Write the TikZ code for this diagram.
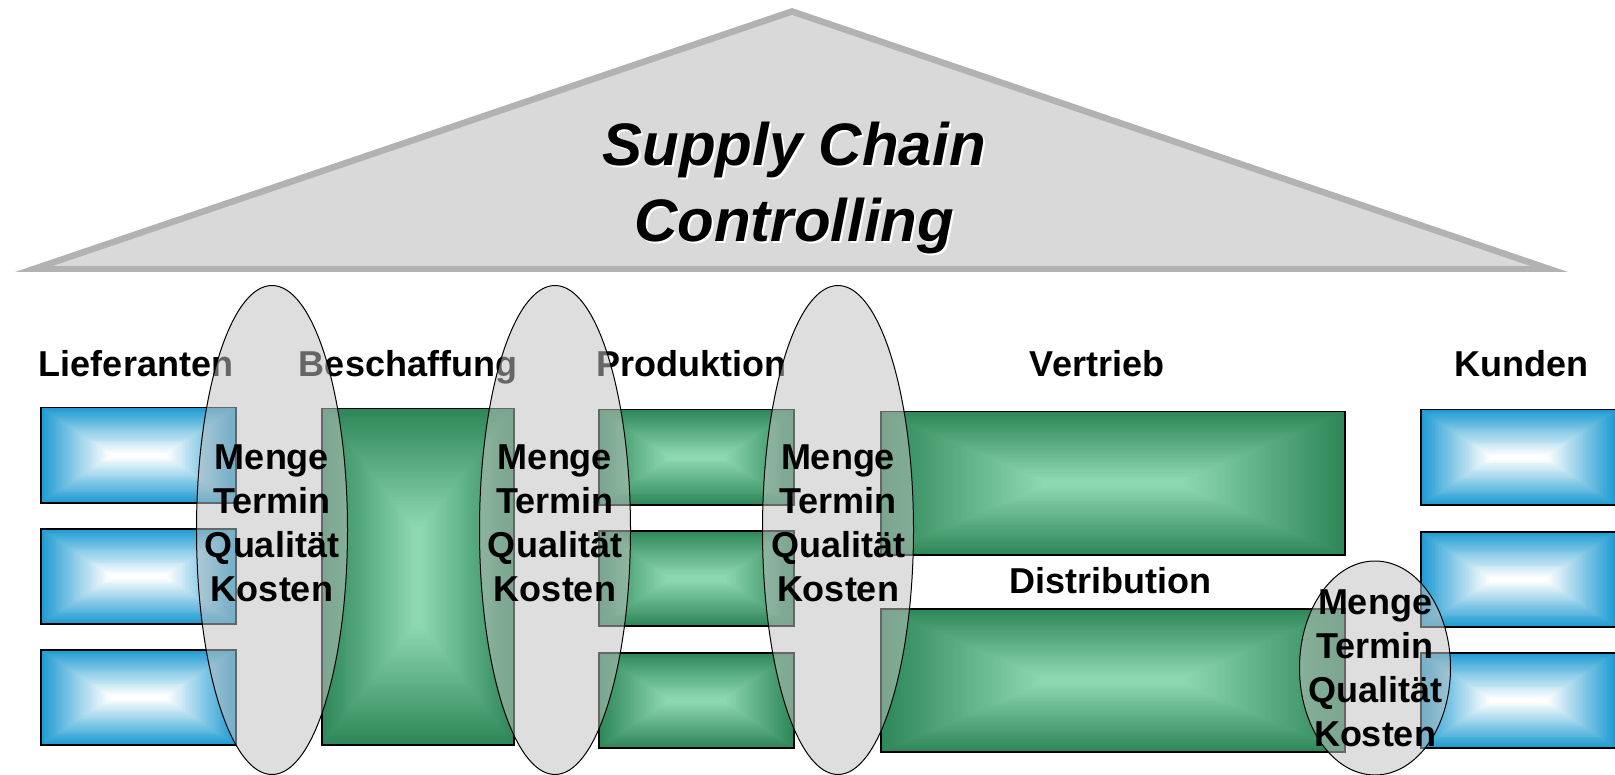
\documentclass[tikz,border=0pt]{standalone}
\usepackage{fontspec}
\setmainfont{Liberation Sans}
\usetikzlibrary{shapes.geometric,calc}
\definecolor{roofgray}{RGB}{217,217,217}
\definecolor{roofedge}{RGB}{178,178,178}
\definecolor{boxblue}{RGB}{30,155,210}
\definecolor{boxgreen}{RGB}{46,135,88}
\definecolor{lightgreen}{RGB}{142,216,176}
\definecolor{lensgray}{RGB}{193,193,193}
% nested frames for the box shading, #1/#2 = inset of the innermost frame
\newcommand{\boxshade}[4]{%
  \foreach \i in {0,...,48}{
    \pgfmathsetmacro{\insx}{#1*\i/48}
    \pgfmathsetmacro{\insy}{#2*\i/48}
    \pgfmathtruncatemacro{\pct}{100*\i/48}
    \fill[#4!\pct!#3] ($(path picture bounding box.south west)+(\insx pt,\insy pt)$)
      rectangle ($(path picture bounding box.north east)-(\insx pt,\insy pt)$);
  }}
\tikzset{%
  shbox/.style     = {draw, line width=1.5pt, inner sep=0pt, anchor=north west},
  bluebox/.style   = {shbox, minimum width=195pt, minimum height=95pt,
    path picture={\boxshade{68}{45}{boxblue}{white}}},
  greenbox/.style n args = {2}{shbox, path picture={\boxshade{#1}{#2}{boxgreen}{lightgreen}}},
  lens/.style      = {ellipse, draw, line width=1pt, fill=lensgray, fill opacity=0.53,
    inner sep=0pt, minimum width=151pt}, % Schnittstelle
  kpi/.style       = {align=center, font=\fontsize{36}{44}\selectfont\bfseries},
  lbl/.style       = {anchor=base, font=\fontsize{36}{44}\selectfont\bfseries}
}

\begin{document}
\begin{tikzpicture}[x=1pt, y=-1pt]
\useasboundingbox (0,0) rectangle (1615,775);
	% Roof
	\fill[roofedge] (15,272) -- (792,8) -- (1568,272) -- cycle;
	\fill[roofgray] (53,266) -- (792,15) -- (1530,266) -- cycle;
\draw
	node at (796,190) [align=center, white, font=\fontsize{60}{76}\selectfont\bfseries\itshape] (titleshadow) {Supply Chain\\Controlling}
	node at (794,188) [align=center, font=\fontsize{60}{76}\selectfont\bfseries\itshape] (title) {Supply Chain\\Controlling};
	% Stage labels
\draw
	node at (136,377) [lbl] (liefer) {Lieferanten}
	node at (408,377) [lbl] (beschaff) {Beschaffung}
	node at (691,377) [lbl] (produkt) {Produktion}
	node at (1097,377) [lbl] (vertrieb) {Vertrieb}
	node at (1521,377) [lbl] (kunden) {Kunden}
	node at (1110,593) [lbl] (distrib) {Distribution};
	% Boxes of the chain
\draw
	node at (40,407) [bluebox] (lief1) {}
	node at (40,528) [bluebox] (lief2) {}
	node at (40,649) [bluebox] (lief3) {}
	node at (321,408) [greenbox={91}{117}, minimum width=192pt, minimum height=336pt] (besch) {}
	node at (598,409) [greenbox={68}{45}, minimum width=195pt, minimum height=95pt] (prod1) {}
	node at (598,530) [greenbox={68}{45}, minimum width=195pt, minimum height=95pt] (prod2) {}
	node at (598,652) [greenbox={68}{45}, minimum width=195pt, minimum height=95pt] (prod3) {}
	node at (880,411) [greenbox={160}{68}, minimum width=464pt, minimum height=143pt] (vertr) {}
	node at (880,608) [greenbox={160}{68}, minimum width=464pt, minimum height=143pt] (distr) {}
	node at (1420,409) [bluebox] (kund1) {}
	node at (1420,531) [bluebox] (kund2) {}
	node at (1420,652) [bluebox] (kund3) {};
	% Interfaces
\draw
	node at (272,530) [lens, minimum height=489pt] (ell1) {}
	node at (555,530) [lens, minimum height=489pt] (ell2) {}
	node at (838,530) [lens, minimum height=489pt] (ell3) {}
	node at (1375,668) [lens, minimum height=214pt] (ell4) {};
\draw
	node at (ell1.center) [kpi, yshift=7pt] (kpi1) {Menge\\Termin\\Qualität\\Kosten}
	node at (ell2.center) [kpi, yshift=7pt] (kpi2) {Menge\\Termin\\Qualität\\Kosten}
	node at (ell3.center) [kpi, yshift=7pt] (kpi3) {Menge\\Termin\\Qualität\\Kosten}
	node at (ell4.center) [kpi] (kpi4) {Menge\\Termin\\Qualität\\Kosten};
\end{tikzpicture}
\end{document}
